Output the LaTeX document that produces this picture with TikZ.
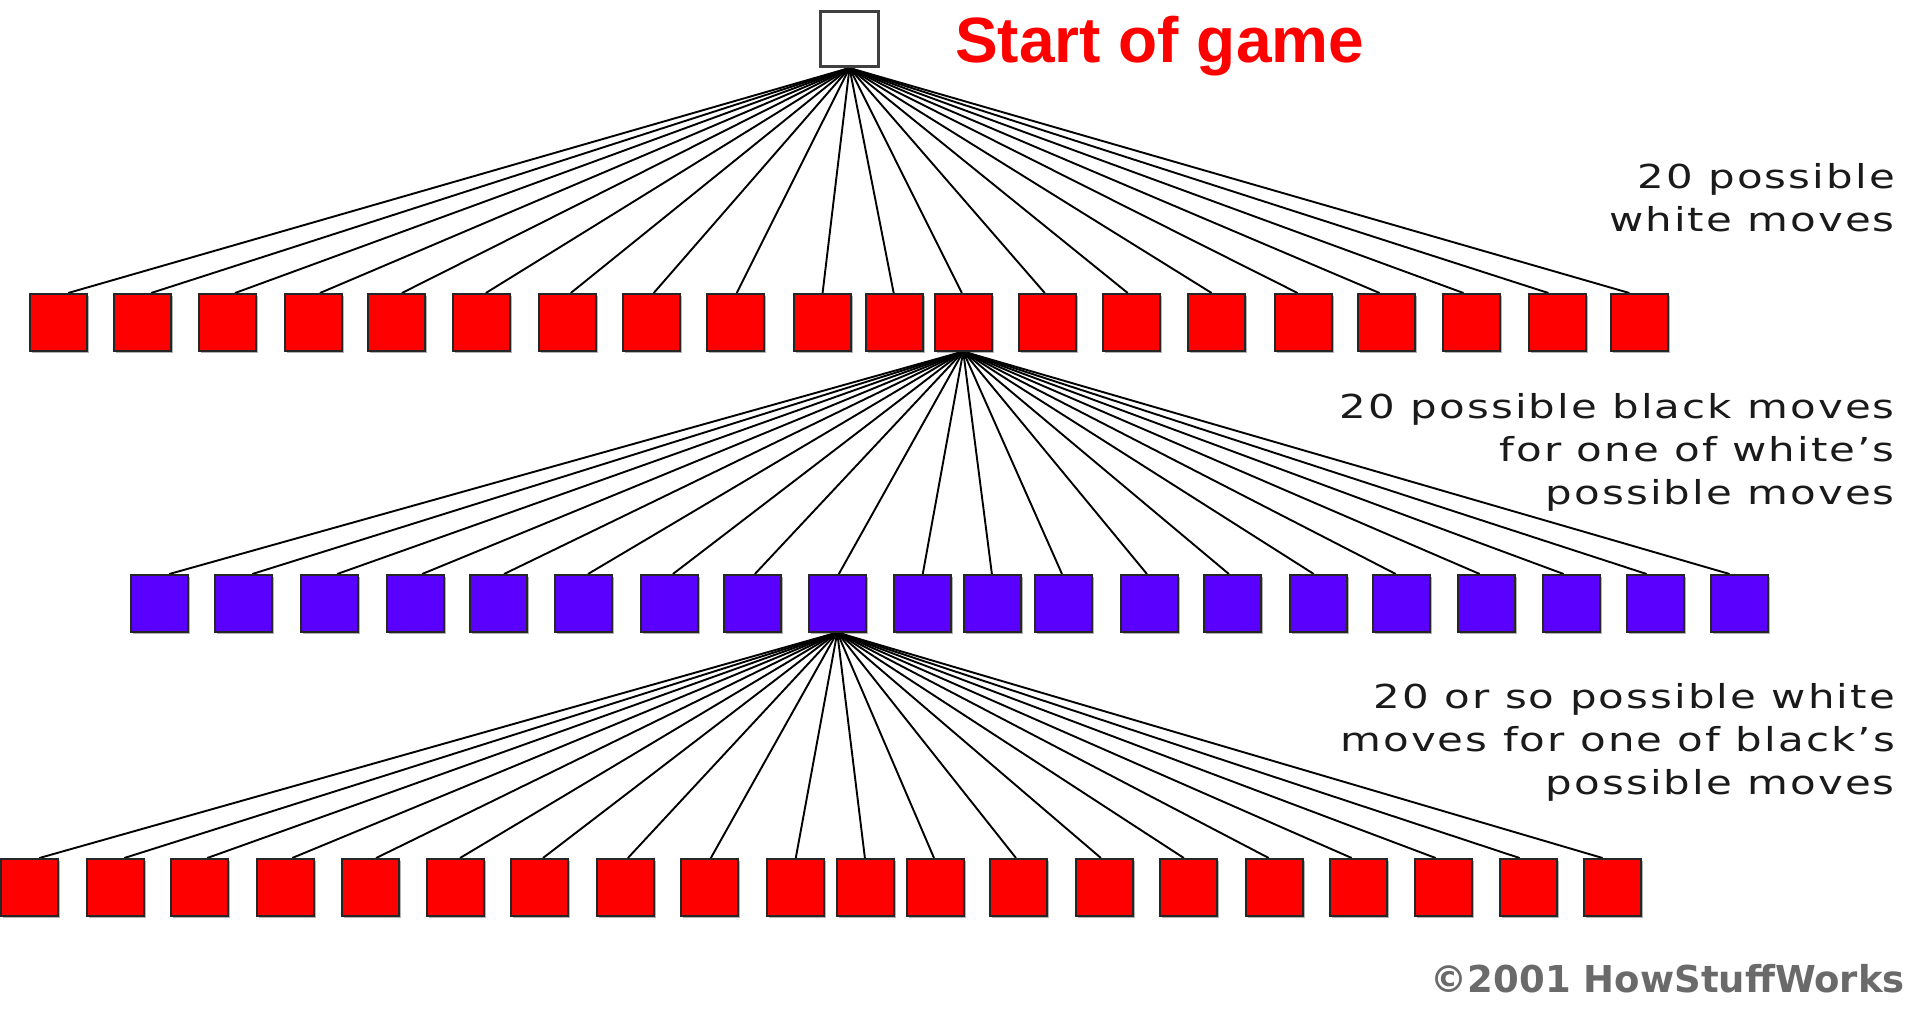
\documentclass[tikz,border=0pt]{standalone}
\usepackage{fontspec}
\usepackage{graphicx}
\usetikzlibrary{calc,shadows}
\newfontfamily\lblfont[LetterSpace=5]{DejaVu Sans}
\newfontfamily\cpyfont{DejaVu Sans}
\newfontfamily\ttlfont{Liberation Sans}
\definecolor{boxred}{HTML}{FF0000}
\definecolor{boxpurple}{HTML}{5A00FF}
\definecolor{lblgray}{HTML}{1A1A1A}
\definecolor{cpygray}{HTML}{6A6A6A}
\newcommand\lbltext[1]{\scalebox{1.27}[1]{\begin{tabular}[t]{@{}r@{}}#1\end{tabular}}}
\pgfdeclarelayer{bg}
\pgfsetlayers{bg,main}
\tikzset{
  movebox/.style={draw=black!85, line width=1.5pt, minimum width=57pt, minimum height=57pt,
    inner sep=0pt, anchor=north west,
    drop shadow={shadow xshift=2pt, shadow yshift=-2pt, fill=black, opacity=0.3}},
  redbox/.style={movebox, fill=boxred},
  purplebox/.style={movebox, fill=boxpurple},
  startbox/.style={draw=black!75, line width=3pt, fill=white, minimum width=58pt,
    minimum height=55pt, inner sep=0pt, anchor=north west},
  fan/.style={draw=black, line width=1.9pt},
  lbl/.style={inner sep=0pt, anchor=base east, text=lblgray,
    font=\lblfont\fontsize{33}{43}\selectfont},
  ttl/.style={inner sep=0pt, anchor=base west, text=boxred,
    font=\ttlfont\bfseries\fontsize{64}{64}\selectfont},
  cpy/.style={inner sep=0pt, anchor=base east, text=cpygray,
    font=\cpyfont\bfseries\fontsize{37}{40}\selectfont}
}
\begin{document}
\begin{tikzpicture}[x=1pt,y=-1pt]
\useasboundingbox (0,0) rectangle (1920,1013);

\node[startbox] (s) at (819,10) {};
\node[ttl] (title) at (955,62) {Start of game};

\foreach \xx [count=\i] in {29,113,198,284,367,452,538,622,706,793,865,934,1018,1102,1187,1274,1357,1442,1528,1610}
  \node[redbox] (a\i) at (\xx,293) {};
\foreach \xx [count=\i] in {130,214,300,386,469,554,640,723,808,893,963,1034,1120,1203,1289,1372,1457,1542,1626,1710}
  \node[purplebox] (b\i) at (\xx,574) {};
\foreach \xx [count=\i] in {0,86,170,256,341,426,510,596,680,766,836,906,989,1075,1159,1245,1329,1414,1499,1583}
  \node[redbox] (c\i) at (\xx,858) {};

\begin{pgfonlayer}{bg}
\fill[white] (0,0) rectangle (1920,1013);
\foreach \i in {1,...,20} {
  \draw[fan] (s.south) -- ({$(a\i.north)!0.0125!(s.south)$} |- a\i.north);
  \draw[fan] (a12.south) -- ({$(b\i.north)!0.0125!(a12.south)$} |- b\i.north);
  \draw[fan] (b9.south) -- ({$(c\i.north)!0.0125!(b9.south)$} |- c\i.north);
}
\end{pgfonlayer}

\node[lbl] (l1) at (1895,188) {\lbltext{20 possible\\white moves}};
\node[lbl] (l2) at (1895,418) {\lbltext{20 possible black moves\\for one of white’s\\possible moves}};
\node[lbl] (l3) at (1895,708) {\lbltext{20 or so possible white\\moves for one of black’s\\possible moves}};
\node[cpy] (cp) at (1905,992) {©2001 HowStuffWorks};
\end{tikzpicture}
\end{document}
